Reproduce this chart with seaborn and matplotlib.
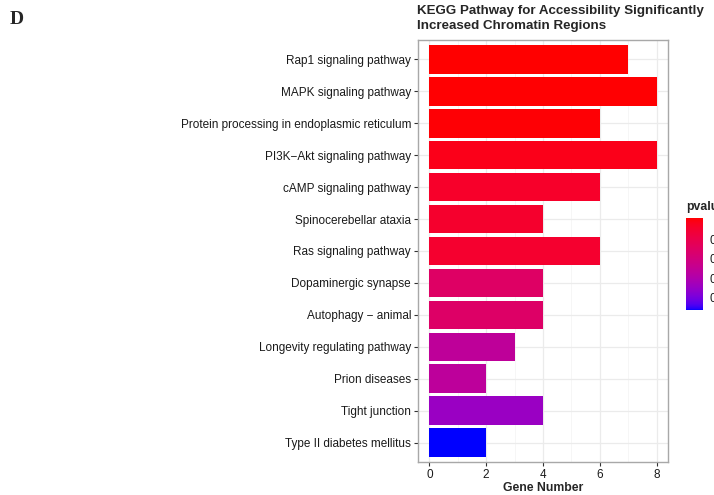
import numpy as np
import pandas as pd
import matplotlib
matplotlib.use("Agg")
import matplotlib.pyplot as plt
import seaborn as sns
from matplotlib.colors import ListedColormap, Normalize
from matplotlib.cm import ScalarMappable

# ---- data ----
pathways = [
    "Rap1 signaling pathway",
    "MAPK signaling pathway",
    "Protein processing in endoplasmic reticulum",
    "PI3K\u2212Akt signaling pathway",
    "cAMP signaling pathway",
    "Spinocerebellar ataxia",
    "Ras signaling pathway",
    "Dopaminergic synapse",
    "Autophagy \u2212 animal",
    "Longevity regulating pathway",
    "Prion diseases",
    "Tight junction",
    "Type II diabetes mellitus",
]
gene_counts = [7, 8, 6, 8, 6, 4, 6, 4, 4, 3, 2, 4, 2]
pvalues = [0.0510, 0.0508, 0.0505, 0.0486, 0.0463, 0.0458, 0.0453,
           0.0349, 0.0344, 0.0240, 0.0236, 0.0155, 0.0037]
legend_ticks = [0.01, 0.02, 0.03, 0.04]


# ---- blue -> red gradient interpolated in CIE Lab ----
def _srgb_to_lab(rgb):
    rgb = np.asarray(rgb, float)
    lin = np.where(rgb <= 0.04045, rgb / 12.92, ((rgb + 0.055) / 1.055) ** 2.4)
    M = np.array([[0.4124564, 0.3575761, 0.1804375],
                  [0.2126729, 0.7151522, 0.0721750],
                  [0.0193339, 0.1191920, 0.9503041]])
    xyz = M @ lin
    white = np.array([0.95047, 1.0, 1.08883])
    t = xyz / white
    f = np.where(t > (6 / 29) ** 3, np.cbrt(t), t / (3 * (6 / 29) ** 2) + 4 / 29)
    return np.array([116 * f[1] - 16, 500 * (f[0] - f[1]), 200 * (f[1] - f[2])])


def _lab_to_srgb(lab):
    L, a, b = lab
    fy = (L + 16) / 116
    fx = fy + a / 500
    fz = fy - b / 200
    f = np.array([fx, fy, fz])
    t = np.where(f > 6 / 29, f ** 3, 3 * (6 / 29) ** 2 * (f - 4 / 29))
    xyz = t * np.array([0.95047, 1.0, 1.08883])
    Minv = np.array([[3.2404542, -1.5371385, -0.4985314],
                     [-0.9692660, 1.8760108, 0.0415560],
                     [0.0556434, -0.2040259, 1.0572252]])
    lin = np.clip(Minv @ xyz, 0, 1)
    rgb = np.where(lin <= 0.0031308, 12.92 * lin, 1.055 * lin ** (1 / 2.4) - 0.055)
    return np.clip(rgb, 0, 1)


lab_lo = _srgb_to_lab([0, 0, 1])
lab_hi = _srgb_to_lab([1, 0, 0])
grad = [_lab_to_srgb(lab_lo + (lab_hi - lab_lo) * s) for s in np.linspace(0, 1, 256)]
cmap = ListedColormap(grad)
norm = Normalize(vmin=min(pvalues), vmax=max(pvalues))
bar_colors = [cmap(norm(p)) for p in pvalues]

df = pd.DataFrame({"Description": pathways, "Count": gene_counts, "pvalue": pvalues})

# ---- figure ----
sns.set_theme(style="whitegrid")
plt.rcParams["font.family"] = ["Liberation Sans", "DejaVu Sans"]

fig = plt.figure(figsize=(7.14, 4.95), dpi=100)
ax = fig.add_axes([418 / 714, 1 - 462 / 495, 250 / 714, 422 / 495])

sns.barplot(data=df, x="Count", y="Description", hue="Description",
            palette=bar_colors, legend=False, width=0.9, saturation=1,
            linewidth=0, ax=ax)

ax.set_xlim(-0.4, 8.4)
ax.set_ylim(len(pathways) - 0.4, -0.6)
ax.set_xticks([0, 2, 4, 6, 8])
ax.set_xticks([1, 3, 5, 7], minor=True)
ax.set_facecolor("white")
ax.grid(True, which="major", color="#ebebeb", linewidth=0.9)
ax.grid(True, which="minor", axis="x", color="#f3f3f3", linewidth=0.5)
ax.set_axisbelow(True)
for sp in ax.spines.values():
    sp.set_visible(True)
    sp.set_color("#a8a8a8")
    sp.set_linewidth(1.0)

ax.tick_params(axis="both", which="major", length=3, width=0.8, color="#333333",
               labelsize=8.5, labelcolor="#1a1a1a", pad=2, left=True, bottom=True)
ax.tick_params(axis="x", which="minor", length=0)
ax.set_ylabel("")
ax.set_xlabel("Gene Number", fontsize=8.8, fontweight="bold", labelpad=1)

fig.text(417 / 714, 1 - 5 / 495,
         "KEGG Pathway for Accessibility Significantly\nIncreased Chromatin Regions",
         ha="left", va="top", fontsize=9.6, fontweight="bold", linespacing=1.32)
fig.text(10 / 714, 1 - 20 / 495, "D", ha="left", va="center",
         fontsize=14, fontweight="bold", family=["Liberation Serif", "DejaVu Serif"])

# ---- colour bar legend ----
cax = fig.add_axes([686 / 714, 1 - 310 / 495, 17 / 714, 92 / 495])
sm = ScalarMappable(norm=norm, cmap=cmap)
cb = fig.colorbar(sm, cax=cax)
cb.outline.set_visible(False)
cb.set_ticks(legend_ticks)
cb.set_ticklabels([f"{t:.2f}" for t in legend_ticks])
cax.tick_params(axis="y", direction="in", color="white", length=3.5, width=0.8,
                left=True, right=True, labelsize=8.5, pad=5, labelcolor="#1a1a1a")
fig.text(686 / 714, 1 - 207 / 495, "pvalue", ha="left", va="center",
         fontsize=8.8, fontweight="bold")

fig.savefig("out.png", dpi=100)
